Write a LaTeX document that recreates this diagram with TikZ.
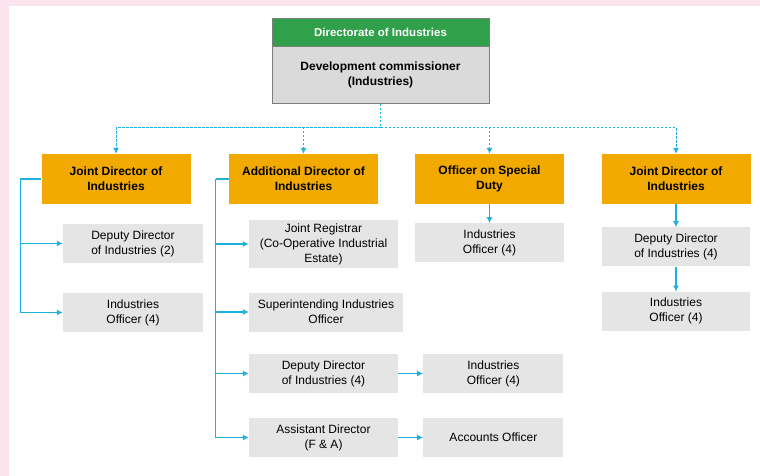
\documentclass[tikz,border=0pt]{standalone}
\usepackage{fontspec}
\setmainfont{Liberation Sans}
\usetikzlibrary{arrows.meta, positioning, calc}

\definecolor{framepink}{RGB}{252,228,238}
\definecolor{dirgreen}{RGB}{48,160,74}
\definecolor{bossgrey}{RGB}{218,218,218}
\definecolor{bossline}{RGB}{120,128,120}
\definecolor{leadorange}{RGB}{242,170,0}
\definecolor{postgrey}{RGB}{229,229,229}
\definecolor{linkcyan}{RGB}{30,176,222}

\begin{document}
\begin{tikzpicture}[x=1pt, y=-1pt,
    head/.style={rectangle, draw=bossline, fill=dirgreen, text=white, minimum width=217pt, minimum height=28pt, inner sep=0pt, font=\bfseries\fontsize{11.5}{14}\selectfont},
    boss/.style={rectangle, draw=bossline, fill=bossgrey, minimum width=217pt, minimum height=57pt, inner sep=0pt, align=center, font=\bfseries\fontsize{12}{14.5}\selectfont},
    lead/.style={rectangle, fill=leadorange, minimum width=149pt, minimum height=50pt, inner sep=0pt, align=center, font=\bfseries\fontsize{12}{15}\selectfont},
    post/.style={rectangle, fill=postgrey, minimum width=149pt, minimum height=39pt, inner sep=0pt, align=center, font=\fontsize{12}{15}\selectfont},
    link/.style={-{Latex[length=6pt,width=6pt]}, line width=1.2pt, draw=linkcyan},
    spine/.style={line width=1.2pt, draw=linkcyan},
    dotlink/.style={-{Latex[length=6pt,width=6pt]}, line width=1pt, draw=linkcyan, dash pattern=on 2.5pt off 1.5pt},
    dotline/.style={line width=1pt, draw=linkcyan, dash pattern=on 2.5pt off 1.5pt}
]

% page frame
\useasboundingbox (0,0) rectangle (760,476);
\fill[framepink] (0,0) rectangle (760,476);
\fill[white] (9,6) rectangle (760,476);

% Directorate
\node[head] (dir) at (380.5,32) {Directorate of Industries};
\node[boss] (boss) [below=0pt of dir] {Development commissioner \\ (Industries)};

% Second level
\node[lead] (jd1) at (116,179) {Joint Director of \\ Industries};
\node[lead] (ad) at (303.5,179) {Additional Director of \\ Industries};
\node[lead] (osd) at (489.5,179) {Officer on Special \\ Duty};
\node[lead] (jd4) at (676,179) {Joint Director of \\ Industries};

% Under first Joint Director
\node[post, minimum width=140pt] (dd1) at (133,243.5) {Deputy Director \\ of Industries (2)};
\node[post, minimum width=140pt] (io1) at (133,312.5) {Industries \\ Officer (4)};

% Under Additional Director
\node[post, minimum height=48pt] (jr) at (323.5,244) {Joint Registrar \\ (Co-Operative Industrial \\ Estate)};
\node[post, minimum width=154pt] (sio) at (326,312) {Superintending Industries \\ Officer};
\node[post] (dd2) at (323.5,373.5) {Deputy Director \\ of Industries (4)};
\node[post] (asd) at (323.5,437.5) {Assistant Director \\ (F \& A)};
\node[post, minimum width=140pt] (io2) [right=25pt of dd2] {Industries \\ Officer (4)};
\node[post, minimum width=140pt] (ao) [right=25pt of asd] {Accounts Officer};

% Under Officer on Special Duty
\node[post] (io3) [below=19pt of osd] {Industries \\ Officer (4)};

% Under second Joint Director
\node[post, minimum width=148pt] (dd4) [below=23pt of jd4] {Deputy Director \\ of Industries (4)};
\node[post, minimum width=148pt] (io4) [below=25pt of dd4] {Industries \\ Officer (4)};

% Dashed links from the Directorate
\draw[dotline] (boss.south) -- ++(0,24) coordinate (hub);
\foreach \n in {jd1,ad,osd,jd4}
    \draw[dotlink] (hub) -| (\n.north);

% Spine of first Joint Director
\draw[spine] (jd1.west) -- ++(-21,0) coordinate (s1);
\draw[link] (s1) |- (dd1.west);
\draw[link] (s1) |- (io1.west);

% Spine of Additional Director
\draw[spine] (ad.west) -- ++(-13,0) coordinate (s2);
\foreach \n in {jr,sio,dd2,asd}
    \draw[link] (s2) |- (\n.west);
\draw[link] (dd2.east) -- (io2.west);
\draw[link] (asd.east) -- (ao.west);

% Straight chains
\draw[link] (osd.south) -- (io3.north);
\draw[link] (jd4.south) -- (dd4.north);
\draw[link] (dd4.south) -- (io4.north);

\end{tikzpicture}
\end{document}
